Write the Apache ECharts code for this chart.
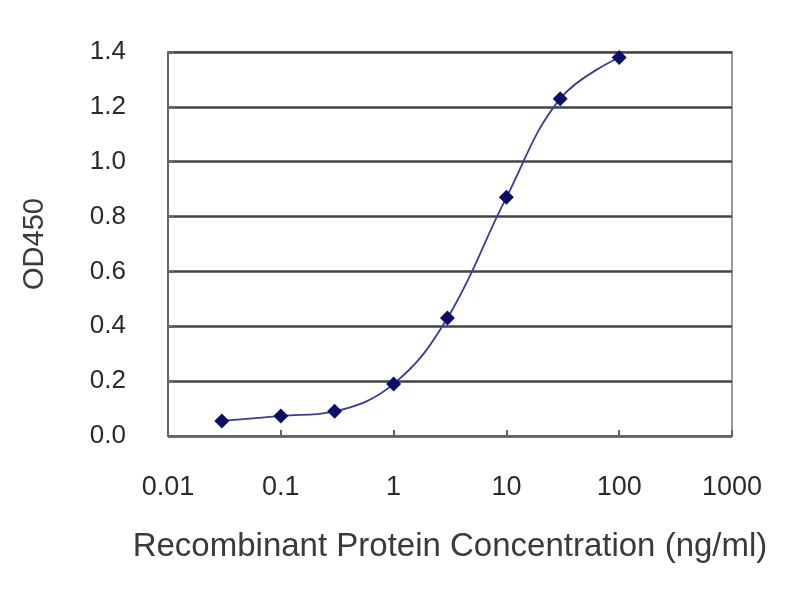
<!DOCTYPE html>
<html>
<head>
<meta charset="utf-8">
<script src="https://cdn.jsdelivr.net/npm/echarts@6/dist/echarts.min.js"></script>
<style>html,body{margin:0;padding:0;background:#fff}#c{width:800px;height:600px}</style>
</head>
<body>
<div id="c"></div>
<script>
var concentrations = [0.03, 0.1, 0.3, 1, 3, 10, 30, 100];
var od450 = [0.055, 0.073, 0.09, 0.19, 0.43, 0.87, 1.23, 1.38];
var xTicks = [0.01, 0.1, 1, 10, 100, 1000];
var yTicks = [0, 0.2, 0.4, 0.6, 0.8, 1.0, 1.2, 1.4];

var chart = echarts.init(document.getElementById('c'));
var pts = concentrations.map(function (c, i) { return [c, od450[i]]; });
chart.setOption({
  backgroundColor: '#ffffff',
  animation: false,
  grid: { left: 168, right: 68, top: 52, bottom: 164, show: true, borderColor: '#999', borderWidth: 2, backgroundColor: '#fff' },
  xAxis: {
    type: 'log', logBase: 10, min: xTicks[0], max: xTicks[xTicks.length - 1],
    name: 'Recombinant Protein Concentration (ng/ml)', nameLocation: 'middle', nameGap: 94,
    nameTextStyle: { fontFamily: 'Liberation Sans', fontSize: 33, color: '#3a3a3a' },
    axisLine: { lineStyle: { color: '#666', width: 2 } },
    axisTick: { inside: true, length: 6, lineStyle: { color: '#666', width: 2 } },
    axisLabel: { margin: 38, fontFamily: 'Liberation Sans', fontSize: 27, color: '#2a2a2a',
      formatter: function (v) { return String(+(+v).toPrecision(3)); } },
    splitLine: { show: false }
  },
  yAxis: {
    type: 'value', min: 0, max: 1.4, interval: 0.2,
    name: 'OD450', nameLocation: 'middle', nameGap: 119, nameRotate: 90,
    nameTextStyle: { fontFamily: 'Liberation Sans', fontSize: 29, color: '#3a3a3a' },
    axisLine: { show: true, lineStyle: { color: '#666', width: 2 } },
    axisTick: { show: true, inside: true, length: 6, lineStyle: { color: '#666', width: 2 } },
    axisLabel: { margin: 42, fontFamily: 'Liberation Sans', fontSize: 26, color: '#2a2a2a',
      formatter: function (v) { return v.toFixed(1); } },
    splitLine: { show: true, lineStyle: { color: '#444', width: 2.5 } }
  },
  series: [{
    type: 'line', data: pts, smooth: 0.4,
    symbol: 'diamond', symbolSize: 15,
    lineStyle: { color: '#3c3c98', width: 1.8 },
    itemStyle: { color: '#0e0e66' }
  }]
});
</script>
</body>
</html>
